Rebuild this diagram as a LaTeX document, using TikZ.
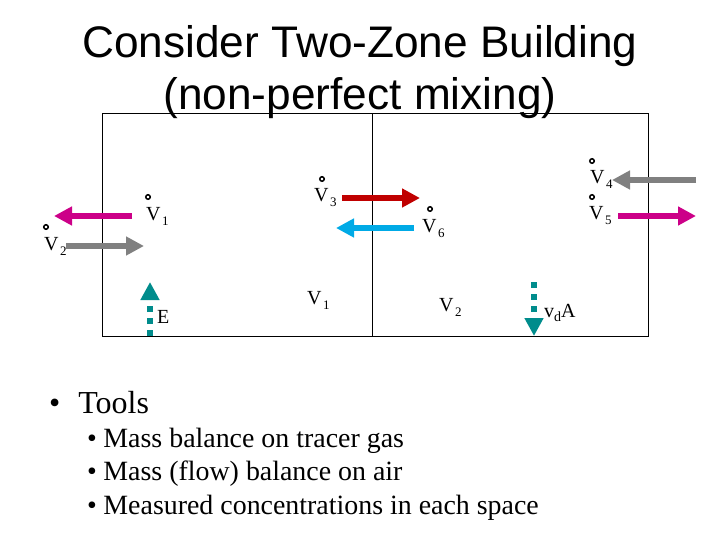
\documentclass[tikz,border=0pt]{standalone}
\usepackage{fontspec}
\setmainfont{Liberation Serif}
\newfontfamily\titlefont{Liberation Sans}
\usetikzlibrary{arrows.meta}
\definecolor{cMag}{RGB}{204,0,136}
\definecolor{cGray}{RGB}{128,128,128}
\definecolor{cRed}{RGB}{192,0,0}
\definecolor{cBlue}{RGB}{0,170,230}
\definecolor{cTeal}{RGB}{0,140,140}
\tikzset{
  x=1pt,y=-1pt,
  wall/.style={draw=black,line width=1pt},
  flow/.style={line width=6pt,-{Triangle[length=18pt,width=18pt]}},
  dashflow/.style={flow,cTeal,dash pattern=on 6pt off 6pt},
  lab/.style={inner sep=0pt,font=\fontsize{20}{24}\selectfont,anchor=base west},
  dotmark/.style={circle,draw=black,line width=1.5pt,inner sep=0pt,minimum size=4.5pt},
  ttl/.style={inner sep=0pt,font=\titlefont\fontsize{44.2}{51}\selectfont,align=center,anchor=base},
  bullet/.style={inner sep=0pt,anchor=base west}
}
\newcommand{\Vs}[1]{V\kern1.5pt\raisebox{-5pt}{\fontsize{13}{13}\selectfont #1}}
\begin{document}
\begin{tikzpicture}
\useasboundingbox (0,0) rectangle (720,540);
\node[ttl] (title1) at (360,58) {Consider Two-Zone Building};
\node[ttl] (title2) at (360,110) {(non-perfect mixing)};
\coordinate (tl) at (102.5,114); \coordinate (tr) at (648,114);
\coordinate (bl) at (102.5,336); \coordinate (br) at (648,336);
\coordinate (dt) at (372,114); \coordinate (db) at (372,336);
\draw[wall] (tl) -- (tr) -- (br) -- (bl) -- cycle;
\draw[wall] (dt) -- (db);
% flows
\coordinate (a1) at (132,216); \coordinate (a2) at (54,216);
\coordinate (b1) at (66,246); \coordinate (b2) at (144,246);
\coordinate (c1) at (342,198); \coordinate (c2) at (420,198);
\coordinate (d1) at (414,228); \coordinate (d2) at (336,228);
\coordinate (e1) at (696,180); \coordinate (e2) at (612,180);
\coordinate (f1) at (618,216); \coordinate (f2) at (696,216);
\coordinate (g1) at (150,336); \coordinate (g2) at (150,282);
\coordinate (h1) at (534,282); \coordinate (h2) at (534,336);
\draw[flow,cMag] (a1) -- (a2);
\draw[flow,cGray] (b1) -- (b2);
\draw[flow,cRed] (c1) -- (c2);
\draw[flow,cBlue] (d1) -- (d2);
\draw[flow,cGray] (e1) -- (e2);
\draw[flow,cMag] (f1) -- (f2);
\draw[dashflow] (g1) -- (g2);
\draw[dashflow] (h1) -- (h2);
% labels
\node[lab] (v1a) at (146,221) {\Vs{1}};
\node[lab] (v2a) at (44,251) {\Vs{2}};
\node[lab] (v3) at (314,202) {\Vs{3}};
\node[lab] (v6) at (422,233) {\Vs{6}};
\node[lab] (v4) at (590,184) {\Vs{4}};
\node[lab] (v5) at (589,220) {\Vs{5}};
\node[lab] (v1b) at (307,304) {\Vs{1}};
\node[lab] (v2b) at (439,311) {\Vs{2}};
\node[lab] (E) at (157,323) {E};
\node[lab] (vda) at (544,317) {v\raisebox{-4pt}{\fontsize{14}{14}\selectfont d}A};
\node[dotmark] (o1) at (148,197) {};
\node[dotmark] (o2) at (46,227) {};
\node[dotmark] (o3) at (322,179) {};
\node[dotmark] (o6) at (430,209) {};
\node[dotmark] (o4) at (592,161) {};
\node[dotmark] (o5) at (592,197) {};
% text
\node[bullet,font=\fontsize{32}{36}\selectfont] (t1) at (49,413) {•\hspace{18pt}Tools};
\node[bullet,font=\fontsize{27.9}{30}\selectfont] (t2) at (87,447) {•\hspace{6.5pt}Mass balance on tracer gas};
\node[bullet,font=\fontsize{27.9}{30}\selectfont] (t3) at (87,480) {•\hspace{6.5pt}Mass (flow) balance on air};
\node[bullet,font=\fontsize{27.9}{30}\selectfont] (t4) at (87,514) {•\hspace{6.5pt}Measured concentrations in each space};
\end{tikzpicture}
\end{document}
